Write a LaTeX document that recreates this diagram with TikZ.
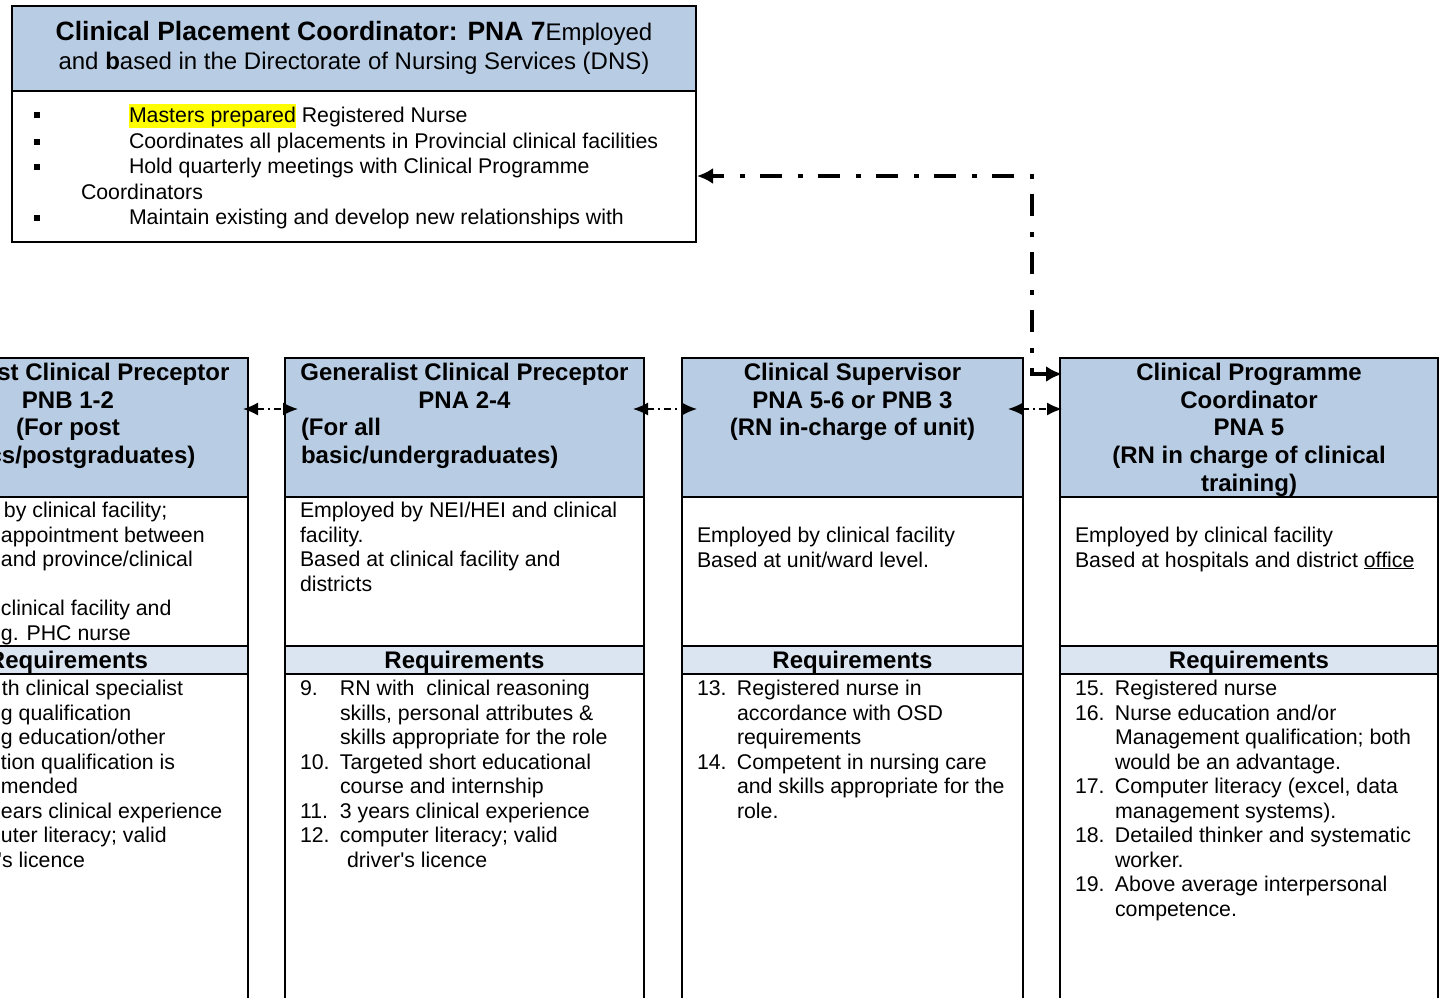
\documentclass[tikz,border=0pt]{standalone}
\usepackage{fontspec}
\setmainfont{Liberation Sans}
\usetikzlibrary{arrows.meta,calc}
\definecolor{hdrblue}{RGB}{184,204,228}
\definecolor{reqblue}{RGB}{219,229,241}
\definecolor{hilite}{RGB}{255,255,0}
\newcommand{\bodyfont}{\fontsize{21.3}{24.5}\selectfont}
\newcommand{\hdrfont}{\bfseries\fontsize{24}{27.6}\selectfont}
\newcommand{\topfont}{\fontsize{24}{29}\selectfont}
\newcommand{\titlebold}{\bfseries\fontsize{26.5}{29}\selectfont}
\newcommand{\bulfont}{\fontsize{21.3}{25.6}\selectfont}
\newcommand{\itemnum}[1]{\makebox[40pt][l]{#1}}
\newcommand{\hangpad}{\hspace*{40pt}}
\begin{document}
\begin{tikzpicture}[x=1pt,y=-1pt,
  frame/.style={draw, line width=2pt, rectangle, inner sep=0pt, outer sep=0pt, anchor=north west},
  hdrbox/.style={frame, fill=hdrblue},
  bodybox/.style={frame, fill=white},
  reqband/.style={frame, fill=reqblue},
  txt/.style={inner sep=0pt, outer sep=0pt, align=left, anchor=base west, font=\bodyfont},
  htxt/.style={inner sep=0pt, outer sep=0pt, align=center, anchor=base, font=\hdrfont},
  bullet/.style={fill=black, inner sep=0pt, minimum size=6.5pt},
  link/.style={line width=1.5pt, dash pattern=on 7pt off 4pt on 2pt off 4pt,
    {Latex[length=15pt,width=13pt]}-{Latex[length=15pt,width=13pt]}},
  bigarrow/.style={line width=4pt, dash pattern=on 22pt off 15pt on 5pt off 16pt,
    {Latex[length=16pt,width=16pt]}-{Latex[length=16pt,width=16pt]}}
]
\useasboundingbox (0,0) rectangle (1445,997);
\clip (0,0) rectangle (1445,997);
\fill[white] (0,0) rectangle (1445,997);

% top box (multi-line nodes are anchored at the baseline of their last line)
\node[bodybox, minimum width=684pt, minimum height=236pt] (top) at (12,6) {};
\node[hdrbox, minimum width=684pt, minimum height=85pt] (toph) at (12,6) {};
\node[anchor=base, inner sep=0pt, align=center, font=\topfont] (toptitle) at (354,69.6)
  {{\titlebold Clinical Placement Coordinator: PNA 7}Employed\\and \textbf{b}ased in the Directorate of Nursing Services (DNS)};
\node[bullet] (bu1) at (37,115) {};
\node[bullet] (bu2) at (37,142) {};
\node[bullet] (bu3) at (37,167) {};
\node[bullet] (bu4) at (37,218) {};
\node[txt, font=\bulfont] (toplist) at (129,224.9)
  {{\setlength{\fboxsep}{0pt}\colorbox{hilite}{\rule[-5.5pt]{0pt}{24pt}Masters prepared}} Registered Nurse\\
   Coordinates all placements in Provincial clinical facilities\\
   Hold quarterly meetings with Clinical Programme\\
   \hspace*{-48pt}Coordinators\\
   Maintain existing and develop new relationships with};

% lower boxes
\node[bodybox, minimum width=360pt, minimum height=340pt] (q1) at (-112,674) {};
\node[reqband, minimum width=360pt, minimum height=28pt] (r1) at (-112,646) {};
\node[bodybox, minimum width=360pt, minimum height=149pt] (b1) at (-112,497) {};
\node[hdrbox, minimum width=360pt, minimum height=139pt] (h1) at (-112,358) {};

\node[bodybox, minimum width=359pt, minimum height=340pt] (q2) at (285,674) {};
\node[reqband, minimum width=359pt, minimum height=28pt] (r2) at (285,646) {};
\node[bodybox, minimum width=359pt, minimum height=149pt] (b2) at (285,497) {};
\node[hdrbox, minimum width=359pt, minimum height=139pt] (h2) at (285,358) {};

\node[bodybox, minimum width=341pt, minimum height=340pt] (q3) at (682,674) {};
\node[reqband, minimum width=341pt, minimum height=28pt] (r3) at (682,646) {};
\node[bodybox, minimum width=341pt, minimum height=149pt] (b3) at (682,497) {};
\node[hdrbox, minimum width=341pt, minimum height=139pt] (h3) at (682,358) {};

\node[bodybox, minimum width=378pt, minimum height=340pt] (q4) at (1060,674) {};
\node[reqband, minimum width=378pt, minimum height=28pt] (r4) at (1060,646) {};
\node[bodybox, minimum width=378pt, minimum height=149pt] (b4) at (1060,497) {};
\node[hdrbox, minimum width=378pt, minimum height=139pt] (h4) at (1060,358) {};

% headers
\node[htxt] (ht1) at (68,463.4) {Specialist Clinical Preceptor\\PNB 1-2\\(For post\\basics/postgraduates)};
\node[htxt] (ht2) at (464.5,408.2) {Generalist Clinical Preceptor\\PNA 2-4};
\node[htxt, anchor=base west, align=left] (ht2b) at (301,463.4) {(For all\\basic/undergraduates)};
\node[htxt] (ht3) at (852.5,435.8) {Clinical Supervisor\\PNA 5-6 or PNB 3\\(RN in-charge of unit)};
\node[htxt] (ht4) at (1249,491) {Clinical Programme\\Coordinator\\PNA 5\\(RN in charge of clinical\\training)};

% body texts
\node[txt] (bt1) at (1,640) {\hspace*{3pt}by clinical facility;\\appointment between\\and province/clinical\\\mbox{}\\clinical facility and\\g. PHC nurse};
\node[txt] (bt2) at (300,591) {Employed by NEI/HEI and clinical\\facility.\\Based at clinical facility and\\districts};
\node[txt] (bt3) at (697,567) {Employed by clinical facility\\Based at unit/ward level.};
\node[txt] (bt4) at (1075,567) {Employed by clinical facility\\Based at hospitals and district \underline{office}};

% requirement headings
\node[htxt] (rt1) at (68,668.6) {Requirements};
\node[htxt] (rt2) at (464.5,668.6) {Requirements};
\node[htxt] (rt3) at (852.5,668.6) {Requirements};
\node[htxt] (rt4) at (1249,668.6) {Requirements};

% requirement lists
\node[txt] (rq1) at (1,867) {\hspace*{1pt}th clinical specialist\\g qualification\\g education/other\\tion qualification is\\mended\\ears clinical experience\\uter literacy; valid\\\hspace*{-3pt}\textquotesingle s licence};
\node[txt] (rq2) at (300,867) {\itemnum{9.}RN with\ \ clinical reasoning\\
  \hangpad skills, personal attributes \&\\
  \hangpad skills appropriate for the role\\
  \itemnum{10.}Targeted short educational\\
  \hangpad course and internship\\
  \itemnum{11.}3 years clinical experience\\
  \itemnum{12.}computer literacy; valid\\
  \hspace*{47pt}driver\textquotesingle s licence};
\node[txt] (rq3) at (697,818) {\itemnum{13.}Registered nurse in\\
  \hangpad accordance with OSD\\
  \hangpad requirements\\
  \itemnum{14.}Competent in nursing care\\
  \hangpad and skills appropriate for the\\
  \hangpad role.};
\node[txt] (rq4) at (1075,916) {\itemnum{15.}Registered nurse\\
  \itemnum{16.}Nurse education and/or\\
  \hangpad Management qualification; both\\
  \hangpad would be an advantage.\\
  \itemnum{17.}Computer literacy (excel, data\\
  \hangpad management systems).\\
  \itemnum{18.}Detailed thinker and systematic\\
  \hangpad worker.\\
  \itemnum{19.}Above average interpersonal\\
  \hangpad competence.};

% connectors
\draw[link] ([xshift=-5pt,yshift=-51pt]h1.north east) -- ([xshift=13pt,yshift=-51pt]h2.north west);
\draw[link] ([xshift=-11pt,yshift=-51pt]h2.north east) -- ([xshift=15pt,yshift=-51pt]h3.north west);
\draw[link] ([xshift=-15pt,yshift=-51pt]h3.north east) -- ([xshift=2pt,yshift=-51pt]h4.north west);
\coordinate (corner) at (1032,176);
\draw[bigarrow] ([xshift=2pt,yshift=-16pt]h4.north west) -| (corner) -- ([xshift=1pt,yshift=-52pt]top.east);
\end{tikzpicture}
\end{document}
